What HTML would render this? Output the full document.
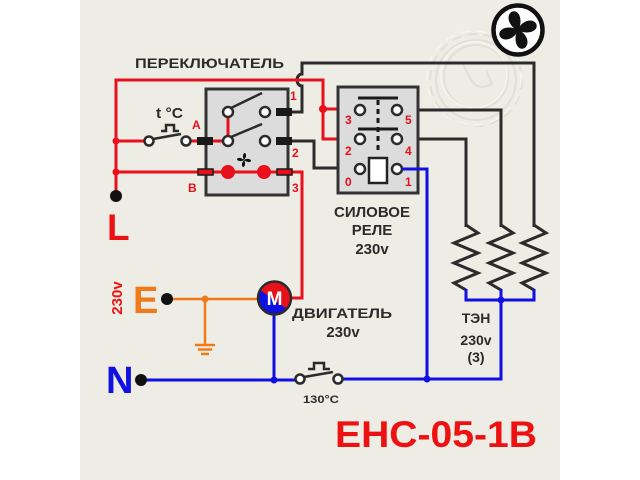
<!DOCTYPE html>
<html><head><meta charset="utf-8"><style>
html,body{margin:0;padding:0;background:#fff;}
svg{display:block;}
text{font-family:"Liberation Sans",Arial,sans-serif;font-weight:bold;}
</style></head><body>
<svg width="640" height="480" viewBox="0 0 640 480" xmlns="http://www.w3.org/2000/svg">
<rect x="0" y="0" width="640" height="480" fill="#ffffff"/>
<rect x="80" y="0" width="480" height="480" fill="#edece5"/>

<!-- watermark gear -->
<g fill="none" stroke="#e0ded5" stroke-width="2" opacity="0.9">
  <circle cx="476" cy="80" r="46" stroke-dasharray="10 6"/>
  <circle cx="476" cy="80" r="40"/>
  <circle cx="476" cy="77" r="32"/>
  <path d="M462,62 L470,78 Q478,92 492,84 L486,70"/>
</g>
<g fill="none" stroke="#f7f6f2" stroke-width="1.5" opacity="0.9">
  <circle cx="474" cy="78" r="47" stroke-dasharray="10 6"/>
  <circle cx="474" cy="75" r="33"/>
</g>

<!-- fan icon -->
<circle cx="518" cy="30" r="24.5" fill="#fff" stroke="#111" stroke-width="4.5"/>
<g transform="translate(518,30)" fill="#111">
  <g transform="rotate(-15)"><path d="M0,0 C-7,-4 -9,-16 -2,-19 C5,-21 8,-11 2,-2 Z"/></g>
  <g transform="rotate(75)"><path d="M0,0 C-7,-4 -9,-16 -2,-19 C5,-21 8,-11 2,-2 Z"/></g>
  <g transform="rotate(165)"><path d="M0,0 C-7,-4 -9,-16 -2,-19 C5,-21 8,-11 2,-2 Z"/></g>
  <g transform="rotate(255)"><path d="M0,0 C-7,-4 -9,-16 -2,-19 C5,-21 8,-11 2,-2 Z"/></g>
  <circle cx="0" cy="0" r="2.5"/>
</g>

<!-- labels -->
<text x="135" y="68" font-size="14" fill="#2b2b2b" textLength="149" lengthAdjust="spacingAndGlyphs">ПЕРЕКЛЮЧАТЕЛЬ</text>

<!-- black wire from connector 1 to heater 3 with hop -->
<path d="M292,112 L302,112 L302,86 A5,6 0 0 1 302,74 L302,63 L534,63 L534,227" fill="none" stroke="#2b2b2b" stroke-width="3"/>

<!-- red wires -->
<g fill="none" stroke="#e8101a" stroke-width="3">
  <path d="M116,196 L116,80 L323,80 L323,139 L356,139"/>
  <path d="M323,109 L356,109"/>
  <path d="M116,141 L145,141"/>
  <path d="M190,141 L228,141"/>
  <path d="M116,172 L292,172"/>
  <path d="M292,172 L302,172 L302,298 L290,298"/>
  <path d="M228,112 L228,141"/>
</g>
<g fill="#e8101a">
  <circle cx="116" cy="141" r="3.5"/>
  <circle cx="116" cy="172" r="3.5"/>
  <circle cx="323" cy="109" r="4"/>
</g>

<!-- switch box -->
<rect x="206" y="89" width="82" height="106" fill="#dcdcdc" stroke="#333" stroke-width="3"/>
<g fill="none" stroke="#e8101a" stroke-width="3">
  <path d="M206,141 L228,141"/>
  <path d="M228,112 L228,141"/>
  <path d="M206,172 L288,172"/>
</g>
<g stroke="#2b2b2b" stroke-width="2.5" fill="none">
  <path d="M231,108 L262,93"/>
  <path d="M231,137 L262,124"/>
</g>
<g fill="#fff" stroke="#2b2b2b" stroke-width="2.5">
  <circle cx="228" cy="112" r="5"/>
  <circle cx="265" cy="112" r="5"/>
  <circle cx="228" cy="141" r="5"/>
  <circle cx="265" cy="141" r="5"/>
</g>
<g fill="#e8101a">
  <circle cx="228" cy="172" r="7"/>
  <circle cx="264" cy="172" r="7"/>
</g>
<!-- connectors -->
<g fill="#1a1a1a">
  <rect x="197" y="137" width="16" height="8"/>
  <rect x="276" y="108" width="16" height="8"/>
  <rect x="276" y="137" width="16" height="8"/>
</g>
<g fill="#e8101a" stroke="#1a1a1a" stroke-width="1.5">
  <rect x="198" y="169" width="15" height="6"/>
  <rect x="277" y="169" width="15" height="6"/>
</g>
<!-- small fan symbol in switch -->
<g transform="translate(244,160)" fill="#111">
  <path d="M0,0 C-2,-3 -1,-7 1,-7 C3,-6 2,-2 0,0 Z"/>
  <path d="M0,0 C3,-2 7,-1 7,1 C6,3 2,2 0,0 Z"/>
  <path d="M0,0 C2,3 1,7 -1,7 C-3,6 -2,2 0,0 Z"/>
  <path d="M0,0 C-3,2 -7,1 -7,-1 C-6,-3 -2,-2 0,0 Z"/>
</g>
<g fill="#e8101a" font-size="12">
  <text x="192" y="129">A</text>
  <text x="188" y="192">B</text>
  <text x="290" y="100">1</text>
  <text x="292" y="157">2</text>
  <text x="292" y="192">3</text>
</g>

<!-- thermostat t°C -->
<g fill="none" stroke="#2b2b2b" stroke-width="2.5">
  <path d="M153,139 L181,134"/>
  <path d="M161,131 L166,131 L166,125 L174,125 L174,131 L179,131"/>
</g>
<g fill="#fff" stroke="#2b2b2b" stroke-width="2.5">
  <circle cx="149" cy="141" r="4.5"/>
  <circle cx="186" cy="141" r="4.5"/>
</g>
<text x="156" y="118" font-size="15" fill="#2b2b2b" textLength="27" lengthAdjust="spacingAndGlyphs">t °C</text>

<!-- black wire from connector 2 to relay 0 -->
<path d="M292,141 L314,141 L314,168 L356,168" fill="none" stroke="#2b2b2b" stroke-width="3"/>
<!-- contact 5 / 4 wires -->
<path d="M402,110 L501,110 L501,227" fill="none" stroke="#2b2b2b" stroke-width="3"/>
<path d="M402,139 L466,139 L466,227" fill="none" stroke="#2b2b2b" stroke-width="3"/>

<!-- relay box -->
<rect x="338" y="87" width="80" height="106" fill="#dcdcdc" stroke="#333" stroke-width="3"/>
<g stroke="#1a1a1a" stroke-width="3" fill="none">
  <path d="M358,98 L398,98"/>
  <path d="M358,129 L398,129"/>
  <path d="M378,100 L378,152" stroke-dasharray="5 4"/>
</g>
<rect x="369" y="158" width="18" height="25" fill="#fff" stroke="#222" stroke-width="2.5"/>
<g fill="#fff" stroke="#2b2b2b" stroke-width="2.5">
  <circle cx="360" cy="110" r="5"/>
  <circle cx="397" cy="110" r="5"/>
  <circle cx="360" cy="139" r="5"/>
  <circle cx="397" cy="139" r="5"/>
  <circle cx="360" cy="169" r="5"/>
  <circle cx="397" cy="169" r="5"/>
</g>
<g fill="#e8101a" font-size="12">
  <text x="345" y="124">3</text>
  <text x="405" y="124">5</text>
  <text x="345" y="155">2</text>
  <text x="405" y="155">4</text>
  <text x="345" y="186">0</text>
  <text x="405" y="186">1</text>
</g>

<text x="372" y="217" font-size="15" fill="#2b2b2b" text-anchor="middle">СИЛОВОЕ</text>
<text x="372" y="235" font-size="15" fill="#2b2b2b" text-anchor="middle">РЕЛЕ</text>
<text x="372" y="254" font-size="15" fill="#2b2b2b" text-anchor="middle">230v</text>

<!-- heaters -->
<g fill="none" stroke="#2b2b2b" stroke-width="3" stroke-linejoin="miter">
  <path d="M466,225 L478,233 L454,243 L478,253 L454,263 L478,273 L454,283 L466,290"/>
  <path d="M501,225 L513,233 L489,243 L513,253 L489,263 L513,273 L489,283 L501,290"/>
  <path d="M534,225 L546,233 L522,243 L546,253 L522,263 L546,273 L522,283 L534,290"/>
</g>

<!-- blue wires -->
<g fill="none" stroke="#1010e0" stroke-width="3">
  <path d="M466,289 L466,300 L534,300 L534,289"/>
  <path d="M501,289 L501,300"/>
  <path d="M501,300 L501,379 L343,379"/>
  <path d="M402,169 L427,169 L427,379"/>
  <path d="M141,380 L296,380"/>
  <path d="M274,312 L274,380"/>
</g>
<g fill="#1010e0">
  <circle cx="501" cy="300" r="3.5"/>
  <circle cx="427" cy="379" r="3.5"/>
  <circle cx="274" cy="380" r="3.5"/>
</g>

<text x="476" y="323" font-size="14" fill="#2b2b2b" text-anchor="middle">ТЭН</text>
<text x="476" y="345" font-size="14" fill="#2b2b2b" text-anchor="middle">230v</text>
<text x="476" y="362" font-size="14" fill="#2b2b2b" text-anchor="middle">(3)</text>

<!-- 130°C thermostat -->
<g fill="none" stroke="#2b2b2b" stroke-width="2.5">
  <path d="M304,377 L333,372"/>
  <path d="M308,369 L314,369 L314,363 L324,363 L324,369 L330,369"/>
</g>
<g fill="#fff" stroke="#2b2b2b" stroke-width="2.5">
  <circle cx="300" cy="379" r="4.5"/>
  <circle cx="338" cy="379" r="4.5"/>
</g>
<text x="303" y="403" font-size="11" fill="#2b2b2b" textLength="36" lengthAdjust="spacingAndGlyphs">130°C</text>

<!-- orange earth -->
<g fill="none" stroke="#f07a1a" stroke-width="2.5">
  <path d="M167,299 L258,299"/>
  <path d="M205,299 L205,345"/>
  <path d="M195,345 L215,345"/>
  <path d="M198,349.5 L212,349.5"/>
  <path d="M201,354 L209,354"/>
</g>
<circle cx="205" cy="299" r="3.5" fill="#f07a1a"/>

<!-- motor -->
<defs><clipPath id="mc"><circle cx="274.5" cy="298" r="16"/></clipPath></defs>
<g clip-path="url(#mc)">
  <rect x="255" y="278" width="40" height="40" fill="#1010e0"/>
  <path d="M250,283 L300,318 L300,270 L250,270 Z" fill="#e8101a"/>
</g>
<circle cx="274.5" cy="298" r="16.5" fill="none" stroke="#2b2b2b" stroke-width="2.5"/>
<text x="274.5" y="305" font-size="19" fill="#fff" text-anchor="middle">M</text>

<text x="342" y="318" font-size="14" fill="#2b2b2b" text-anchor="middle" textLength="100" lengthAdjust="spacingAndGlyphs">ДВИГАТЕЛЬ</text>
<text x="343" y="337" font-size="15" fill="#2b2b2b" text-anchor="middle">230v</text>

<!-- terminals -->
<g fill="#111">
  <circle cx="116" cy="196" r="6"/>
  <circle cx="167" cy="299" r="6"/>
  <circle cx="141" cy="380" r="6"/>
</g>
<text x="107" y="240" font-size="37" fill="#ee1111">L</text>
<text x="133" y="313" font-size="38" fill="#f07a1a">E</text>
<text x="106" y="393" font-size="38" fill="#1010e0">N</text>
<text transform="translate(122,298) rotate(-90)" x="0" y="0" font-size="15" fill="#ee1111" text-anchor="middle">230v</text>

<text x="335" y="447" font-size="37" fill="#ee1111" textLength="202" lengthAdjust="spacingAndGlyphs">EHC-05-1B</text>
</svg>
</body></html>
